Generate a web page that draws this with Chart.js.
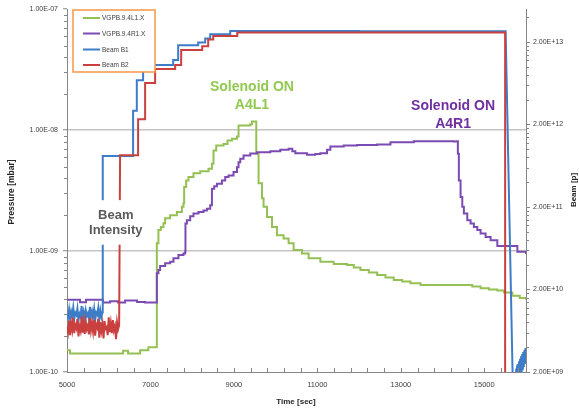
<!DOCTYPE html>
<html>
<head>
<meta charset="utf-8">
<script src="https://cdn.jsdelivr.net/npm/chart.js@4"></script>
<style>
  html, body { margin: 0; padding: 0; background: #fff; }
  #wrap { width: 579px; height: 411px; }
</style>
</head>
<body>
<div id="wrap"><canvas id="c" width="579" height="411"></canvas></div>
<script>
// ---- axis ticks ----
const timeTicks = [5000, 7000, 9000, 11000, 13000, 15000];
const pressureTicks = [1e-10, 1e-9, 1e-8, 1e-7];
const beamTicks = [2e9, 2e10, 2e11, 2e12, 2e13];

// ---- vacuum gauges: [time s, pressure mbar] ----
const gaugeL1 = [
  [5000,1.51e-10],[5072,1.42e-10],[6344,1.50e-10],[6464,1.42e-10],[6752,1.51e-10],[6950,1.60e-10],
  [7153,1.16e-9],[7191,1.49e-9],[7249,1.58e-9],[7311,1.70e-9],[7352,1.87e-9],[7472,1.98e-9],
  [7633,2.10e-9],[7753,2.32e-9],[7791,2.48e-9],[7808,3.38e-9],[7856,3.84e-9],[7911,4.09e-9],
  [8031,4.41e-9],[8192,4.58e-9],[8391,4.80e-9],[8473,5.27e-9],[8511,6.78e-9],[8576,7.45e-9],
  [8751,7.69e-9],[8847,8.20e-9],[8953,8.47e-9],[9073,8.85e-9],[9111,1.09e-8],[9392,1.12e-8],
  [9433,1.18e-8],[9536,6.41e-9],[9591,3.63e-9],[9673,2.73e-9],[9711,2.32e-9],[9793,1.91e-9],
  [9913,1.58e-9],[10033,1.35e-9],[10191,1.27e-9],[10311,1.16e-9],[10431,1.02e-9],[10633,9.57e-10],
  [10791,8.71e-10],[11072,8.17e-10],[11391,7.82e-10],[11713,7.67e-10],[11872,7.30e-10],[12032,6.98e-10],
  [12233,6.65e-10],[12433,6.35e-10],[12632,6.05e-10],[12831,5.77e-10],[13032,5.60e-10],[13232,5.42e-10],
  [13472,5.25e-10],[14512,5.25e-10],[14712,5.10e-10],[14912,4.93e-10],[15113,4.82e-10],[15313,4.71e-10],
  [15471,4.54e-10],[15673,4.27e-10],[15850,4.10e-10],[16000,3.95e-10]
];
const gaugeR1 = [
  [5000,3.96e-10],[5312,3.78e-10],[5456,3.96e-10],[5864,3.75e-10],[6032,3.85e-10],[6224,3.75e-10],
  [6392,3.90e-10],[6680,3.80e-10],[6872,3.75e-10],[7153,6.55e-10],[7191,6.98e-10],[7232,7.53e-10],
  [7352,7.93e-10],[7472,8.17e-10],[7551,8.71e-10],[7671,9.27e-10],[7791,9.57e-10],[7832,9.87e-10],
  [7839,1.69e-9],[7873,1.80e-9],[7952,1.94e-9],[8031,2.04e-9],[8151,2.10e-9],[8271,2.17e-9],
  [8353,2.24e-9],[8432,2.39e-9],[8473,3.28e-9],[8528,3.43e-9],[8593,3.61e-9],[8713,3.84e-9],
  [8792,4.09e-9],[8871,4.22e-9],[8991,4.50e-9],[9073,4.94e-9],[9111,5.43e-9],[9152,5.79e-9],
  [9231,6.17e-9],[9392,6.40e-9],[9553,6.56e-9],[9872,6.70e-9],[10112,6.88e-9],[10311,7.00e-9],
  [10400,6.70e-9],[10472,6.44e-9],[10753,6.25e-9],[10950,6.35e-9],[11072,6.44e-9],[11233,6.88e-9],
  [11312,7.31e-9],[11631,7.45e-9],[11953,7.55e-9],[12433,7.60e-9],[12752,7.94e-9],[13311,8.09e-9],
  [14271,8.04e-9],[14353,8.09e-9],[14367,6.37e-9],[14391,3.84e-9],[14432,2.80e-9],[14473,2.32e-9],
  [14511,2.04e-9],[14593,1.80e-9],[14672,1.69e-9],[14751,1.58e-9],[14833,1.49e-9],[14912,1.40e-9],
  [15032,1.31e-9],[15152,1.23e-9],[15313,1.10e-9],[15793,9.87e-10],[16000,9.44e-10]
];

// ---- beam intensities, in units of 1e9 protons: [time s, value] ----
const b1Noise = [
  [5000,10.2],[5025,9.1],[5050,11.4],[5075,8.6],[5100,10.8],[5125,9.5],[5150,12.1],[5175,8.9],
  [5200,10.4],[5225,9.8],[5250,11.8],[5275,8.4],[5300,10.1],[5325,9.3],[5350,12.6],[5375,9.0],
  [5400,10.7],[5425,8.8],[5450,11.2],[5475,9.6],[5500,10.3],[5525,8.7],[5550,12.3],[5575,9.4],
  [5600,10.9],[5625,9.2],[5650,11.6],[5675,8.5],[5700,10.5],[5725,9.9],[5750,12.0],[5775,8.8],
  [5800,11.1],[5825,9.3],[5850,10.6]
];
const b1Steps = [
  [5857,830],[6584,2940],[6673,6900],[6824,9100],[6896,10500],[7544,12100],[7664,18300],
  [8144,19800],[8312,22000],[8432,24900],[8912,27300],[12000,27000],[15512,26800]
];
const b1Tail = [
  [15690,1.0],[15755,1.3],[15765,2.2],[15775,1.4],[15785,2.4],[15795,1.5],[15808,2.5],[15820,1.6],
  [15832,2.7],[15845,1.7],[15858,2.9],[15870,1.9],[15883,3.1],[15896,2.0],[15909,3.3],[15922,2.1],
  [15935,3.5],[15948,2.3],[15961,3.7],[15974,2.5],[15987,3.9],[16000,3.4]
];
const b2Noise = [
  [5000,7.2],[5025,6.1],[5050,8.4],[5075,5.6],[5100,7.8],[5125,6.5],[5150,9.1],[5175,5.9],
  [5200,7.4],[5225,6.8],[5250,8.8],[5275,5.4],[5300,7.1],[5325,6.3],[5350,9.4],[5375,6.0],
  [5400,7.7],[5425,5.8],[5450,8.2],[5475,6.6],[5500,7.3],[5525,5.7],[5550,9.0],[5575,6.4],
  [5600,7.9],[5625,6.2],[5650,8.6],[5675,5.5],[5700,7.5],[5725,6.9],[5750,8.9],[5775,5.2],
  [5800,8.1],[5825,6.3],[5850,7.6],[5875,5.1],[5900,8.3],[5925,6.7],[5950,7.0],[5975,5.6],
  [6000,9.2],[6025,6.1],[6050,7.8],[6075,5.9],[6100,8.5],[6125,6.4],[6150,7.2],[6175,5.0],
  [6200,8.0],[6225,6.6],[6250,7.4]
];
const b2Steps = [
  [6272,850],[6704,2310],[6872,6360],[7112,9400],[7592,10500],[7736,16000],[8240,17800],
  [8384,21500],[8504,23600],[9080,26100],[15500,1]
];

const E9 = 1e9;
const FONT = "'Liberation Sans', Arial, sans-serif";
const AXIS = '#868686';
const TXT = '#404040';

const toPts = rows => rows.map(([t, v]) => ({ x: t, y: v * E9 }));
// sample-and-hold steps: value kept until the next time stamp
function stairs(rows) {
  const pts = [];
  rows.forEach(([t, v], i) => {
    if (i > 0) pts.push({ x: t, y: rows[i - 1][1] * E9 });
    pts.push({ x: t, y: v * E9 });
  });
  return pts;
}

function sci(v) {
  const [m, e] = v.toExponential(2).split('e');
  const n = Math.abs(parseInt(e, 10));
  return m + 'E' + (e[0] === '-' ? '-' : '+') + (n < 10 ? '0' + n : String(n));
}

const notes = [
  { lines: ['Solenoid ON', 'A4L1'], t: 9433, p: 2.28e-8, color: '#92c950', size: 14, gap: 18 },
  { lines: ['Solenoid ON', 'A4R1'], t: 14252, p: 1.59e-8, color: '#7030a0', size: 14, gap: 18 },
  { lines: ['Beam', 'Intensity'], t: 6169, p: 1.98e-9, color: '#5a5a5a', size: 13, gap: 15.5, box: true }
];

const decor = {
  id: 'decor',
  afterDatasetsDraw(chart) {
    const { ctx, scales } = chart;
    const xs = scales.x, yp = scales.yP;
    // text notes
    notes.forEach(n => {
      const cx = xs.getPixelForValue(n.t);
      const y0 = yp.getPixelForValue(n.p);
      ctx.save();
      ctx.font = 'bold ' + n.size + 'px ' + FONT;
      if (n.box) {
        const w = Math.max(...n.lines.map(s => ctx.measureText(s).width)) + 6;
        ctx.fillStyle = '#fff';
        ctx.fillRect(cx - w / 2, y0 - 15, w, n.gap * (n.lines.length - 1) + 29);
      }
      ctx.fillStyle = n.color;
      ctx.textAlign = 'center';
      ctx.textBaseline = 'middle';
      n.lines.forEach((s, i) => ctx.fillText(s, cx, y0 + i * n.gap));
      ctx.restore();
    });
    // legend box
    ctx.save();
    ctx.fillStyle = '#fff';
    ctx.fillRect(73, 10, 82, 62);
    ctx.strokeStyle = '#f79646';
    ctx.lineWidth = 1.5;
    ctx.strokeRect(73, 10, 82, 62);
    const rows = [18, 33.5, 49.5, 65];
    ctx.font = '6.5px ' + FONT;
    ctx.textBaseline = 'middle';
    chart.data.datasets.forEach((ds, i) => {
      ctx.strokeStyle = ds.borderColor;
      ctx.lineWidth = 2;
      ctx.beginPath();
      ctx.moveTo(83, rows[i]);
      ctx.lineTo(100, rows[i]);
      ctx.stroke();
      ctx.fillStyle = TXT;
      ctx.fillText(ds.label, 102, rows[i] + 0.5);
    });
    ctx.restore();
  },
  afterDraw(chart) {
    const { ctx, scales, chartArea: a } = chart;
    const xs = scales.x, yp = scales.yP, yb = scales.yB;
    ctx.save();
    ctx.strokeStyle = AXIS;
    ctx.lineWidth = 1;
    ctx.beginPath();
    // minor ticks, pressure axis
    for (let d = -10; d < -7; d++) {
      for (let m = 2; m <= 9; m++) {
        const y = Math.round(yp.getPixelForValue(m * Math.pow(10, d))) + 0.5;
        ctx.moveTo(a.left - 3, y); ctx.lineTo(a.left, y);
      }
    }
    // minor ticks, beam axis
    beamTicks.forEach(b => {
      for (let m = 2; m <= 9; m++) {
        const v = b * m;
        if (v > yb.max) break;
        const y = Math.round(yb.getPixelForValue(v)) + 0.5;
        ctx.moveTo(a.right, y); ctx.lineTo(a.right + 3, y);
      }
    });
    // time axis ticks
    for (let t = 5000; t <= 16000; t += 400) {
      const x = Math.round(xs.getPixelForValue(t)) + 0.5;
      ctx.moveTo(x, a.bottom); ctx.lineTo(x, a.bottom - 4);
    }
    ctx.stroke();

    // axis titles
    ctx.fillStyle = '#262626';
    ctx.textAlign = 'center';
    ctx.textBaseline = 'middle';
    ctx.font = 'bold 8px ' + FONT;
    ctx.fillText('Time [sec]', 296, 402);
    ctx.save();
    ctx.translate(12, 192);
    ctx.rotate(-Math.PI / 2);
    ctx.font = 'bold 8.5px ' + FONT;
    ctx.fillText('Pressure [mbar]', 0, 0);
    ctx.restore();
    ctx.save();
    ctx.translate(574, 190);
    ctx.rotate(-Math.PI / 2);
    ctx.font = 'bold 8px ' + FONT;
    ctx.fillText('Beam [p]', 0, 0);
    ctx.restore();
    ctx.restore();
  }
};

const line = (label, data, color, axis, order, stepped) => ({
  label, data, borderColor: color, backgroundColor: color, yAxisID: axis, order,
  borderWidth: 2, pointRadius: 0, fill: false, tension: 0, stepped
});

new Chart(document.getElementById('c'), {
  type: 'line',
  data: {
    datasets: [
      line('VGPB.9.4L1.X', gaugeL1.map(([t, p]) => ({ x: t, y: p })), '#94c054', 'yP', 3, true),
      line('VGPB.9.4R1.X', gaugeR1.map(([t, p]) => ({ x: t, y: p })), '#7b4ab3', 'yP', 2, true),
      line('Beam B1', [...toPts(b1Noise), ...stairs(b1Steps), ...toPts(b1Tail)], '#3d7cc9', 'yB', 1, false),
      line('Beam B2', [...toPts(b2Noise), ...stairs(b2Steps)], '#c9403f', 'yB', 0, false)
    ]
  },
  options: {
    responsive: false,
    animation: false,
    layout: { padding: { top: 8, left: 0, right: 0, bottom: 0 } },
    plugins: { legend: { display: false }, tooltip: { enabled: false } },
    scales: {
      x: {
        type: 'linear', min: 5000, max: 16000,
        afterBuildTicks: s => { s.ticks = timeTicks.map(v => ({ value: v })); },
        afterFit: s => { s.height = 39; },
        grid: { display: false, drawTicks: false },
        border: { display: true, color: AXIS, width: 1 },
        ticks: { autoSkip: false, maxRotation: 0, padding: 8, color: TXT,
                 font: { family: FONT, size: 7.5 }, callback: v => String(v) }
      },
      yP: {
        type: 'logarithmic', position: 'left', min: 1e-10, max: 1e-7,
        afterBuildTicks: s => { s.ticks = pressureTicks.map(v => ({ value: v })); },
        afterFit: s => { s.width = 67; },
        grid: {
          color: c => (c.tick && (c.tick.value === 1e-8 || c.tick.value === 1e-9)) ? '#c4c4c4' : 'rgba(0,0,0,0)',
          lineWidth: 1.5, drawTicks: true, tickLength: 4, tickColor: AXIS, tickWidth: 1
        },
        border: { display: true, color: AXIS, width: 1 },
        ticks: { padding: 5, color: TXT, font: { family: FONT, size: 7 }, callback: v => sci(v) }
      },
      yB: {
        type: 'logarithmic', position: 'right', min: 2e9, max: 5e13,
        afterBuildTicks: s => { s.ticks = beamTicks.map(v => ({ value: v })); },
        afterFit: s => { s.width = 53; },
        grid: { drawOnChartArea: false, drawTicks: true, tickLength: 4, tickColor: AXIS, tickWidth: 1 },
        border: { display: true, color: AXIS, width: 1 },
        ticks: { padding: 3, color: TXT, font: { family: FONT, size: 7 }, callback: v => sci(v) }
      }
    }
  },
  plugins: [decor]
});
</script>
</body>
</html>
